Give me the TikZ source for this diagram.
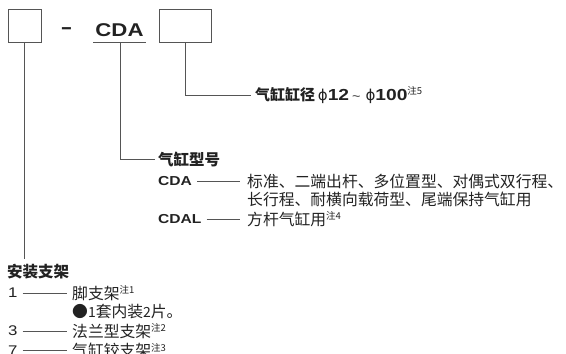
\documentclass[tikz,border=0pt]{standalone}
\usepackage{fontspec}
\setmainfont{Liberation Sans}[FakeStretch=1.2]
\newfontfamily\cjk{Noto Sans CJK SC}
\newfontfamily\djv{DejaVu Sans}
\newcommand{\zhsup}[1]{\raisebox{5.5pt}{\cjk\fontsize{9.5}{9.5}\selectfont #1}}
\newcommand{\phisym}{{\djv\fontsize{15}{17}\selectfont ϕ}}
\definecolor{ink}{HTML}{222222}
\definecolor{ln}{HTML}{555555}
\tikzset{
  every node/.style={inner sep=0pt, text=ink},
  boxn/.style={draw=ln, line width=0.9pt},
  conn/.style={draw=ln, line width=0.8pt},
  big/.style={font=\fontsize{18.5}{20}\selectfont\bfseries},
  head/.style={font=\cjk\fontsize{15.5}{17}\selectfont\bfseries, anchor=west},
  code/.style={font=\fontsize{13}{15}\selectfont\bfseries, anchor=west},
  desc/.style={font=\cjk\fontsize{15.8}{17}\selectfont, anchor=west},
  num/.style={font=\fontsize{14}{16}\selectfont, anchor=west},
}
\begin{document}
\begin{tikzpicture}[x=1pt,y=-1pt]
\useasboundingbox (0,0) rectangle (566,354);
% top row
\node[boxn, minimum width=33pt, minimum height=33pt] (b1) at (24.5,25.5) {};
\node[big] (dash) at (66.5,31) {\scalebox{1.6}[1]{-}};
\node[big, anchor=base] (cdat) at (119.5,36) {CDA};
\coordinate (ulA) at (93,42);
\coordinate (ulB) at (146,42);
\coordinate (ulM) at (120,42);
\draw[conn] (ulA) -- (ulB);
\node[boxn, minimum width=52pt, minimum height=33pt] (b2) at (185,25.5) {};
% bore size
\node[anchor=west, font=\fontsize{16}{17}\selectfont] (bore) at (255,95)
  {{\cjk\fontsize{15}{17}\selectfont\bfseries 气缸缸径}\,\phisym{\bfseries 12}\hspace{3pt}{\fontsize{12}{12}\selectfont\textasciitilde}\hspace{5pt}\phisym{\bfseries 100}\zhsup{注5}};
\draw[conn, shorten >=4pt] (b2.south) |- (bore.west);
% model
\node[head] (model) at (158,159) {气缸型号};
\draw[conn, shorten >=3pt] (ulM) |- (model.west);
\node[code] (cda) at (158,181) {CDA};
\node[desc] (cdad) at (247,181) {标准、二端出杆、多位置型、对偶式双行程、};
\node[desc] (cdad2) at (247,199) {长行程、耐横向载荷型、尾端保持气缸用};
\draw[conn, line width=0.7pt, shorten <=5pt, shorten >=7pt] (cda.east) -- (cdad.west);
\node[code] (cdal) at (158,219) {CDAL};
\node[desc] (cdald) at (247,219) {方杆气缸用\zhsup{注4}};
\draw[conn, line width=0.7pt, shorten <=5pt, shorten >=7pt] (cdal.east) -- (cdald.west);
% mounting
\node[head] (mount) at (7,272) {安装支架};
\draw[conn, shorten >=5pt] (b1.south) -- (b1.south |- mount.north);
\node[num] (n1) at (8,293) {1};
\node[desc] (d1) at (72,293) {脚支架\zhsup{注1}};
\draw[conn, line width=0.7pt, shorten <=5pt, shorten >=5pt] (n1.east) -- (d1.west);
\node[desc] (d1b) at (72,312) {●{\fontsize{14}{16}\selectfont 1}套内装{\fontsize{14}{16}\selectfont 2}片。};
\node[num] (n3) at (8,331) {3};
\node[desc] (d3) at (72,331) {法兰型支架\zhsup{注2}};
\draw[conn, line width=0.7pt, shorten <=5pt, shorten >=5pt] (n3.east) -- (d3.west);
\node[num] (n7) at (8,350.5) {7};
\node[desc] (d7) at (72,350.5) {气缸铰支架\zhsup{注3}};
\draw[conn, line width=0.7pt, shorten <=5pt, shorten >=5pt] (n7.east) -- (d7.west);
\end{tikzpicture}
\end{document}
